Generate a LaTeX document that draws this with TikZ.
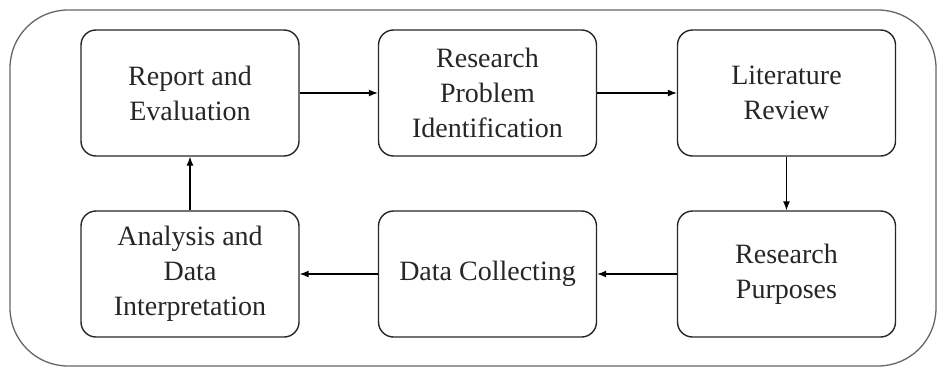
\documentclass[tikz,border=0pt]{standalone}
\usepackage{fontspec}
\setmainfont{Liberation Serif}
\usetikzlibrary{arrows.meta}
\begin{document}
\begin{tikzpicture}[x=1pt,y=-1pt,
  stepbox/.style={draw=black!85, line width=1.4pt, rounded corners=15pt,
    minimum width=218pt, minimum height=126pt, align=center,
    font=\fontsize{28}{35}\selectfont, text=black!85, inner sep=0pt},
  flow/.style={draw=black, line width=1.2pt, -{Latex[length=9pt,width=7pt]}}]
\useasboundingbox (0,0) rectangle (937,367);
\draw[black!60, line width=1.3pt, rounded corners=58pt] (10,10) rectangle (936,366);
\node[stepbox] (rep) at (190,93) {Report and\\Evaluation};
\node[stepbox] (rpi) at (487.5,93) {Research\\Problem\\Identification};
\node[stepbox] (lit) at (786.5,93) {Literature\\Review};
\node[stepbox] (pur) at (786.5,274) {Research\\Purposes};
\node[stepbox] (dat) at (487.5,274) {Data Collecting};
\node[stepbox] (ana) at (190,274) {Analysis and\\Data\\Interpretation};
\draw[flow] (rep) -- (rpi);
\draw[flow] (rpi) -- (lit);
\draw[flow] (lit) -- (pur);
\draw[flow] (pur) -- (dat);
\draw[flow] (dat) -- (ana);
\draw[flow] (ana) -- (rep);
\end{tikzpicture}
\end{document}
